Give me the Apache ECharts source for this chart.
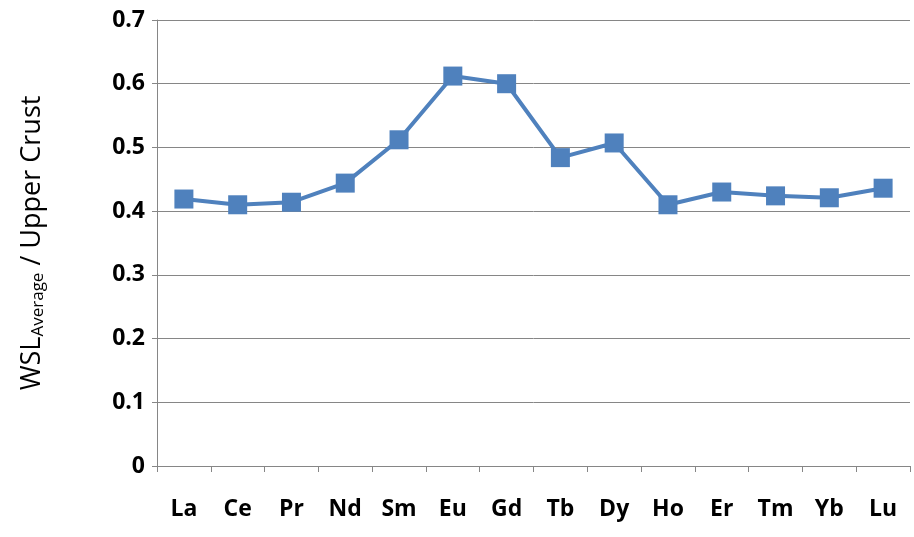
<!DOCTYPE html>
<html>
<head>
<meta charset="utf-8">
<script src="https://cdn.jsdelivr.net/npm/echarts@6/dist/echarts.min.js"></script>
<style>html,body{margin:0;padding:0;background:#fff}#chart{width:914px;height:537px}</style>
</head>
<body>
<div id="chart"></div>
<script>
const elements = ["La", "Ce", "Pr", "Nd", "Sm", "Eu", "Gd", "Tb", "Dy", "Ho", "Er", "Tm", "Yb", "Lu"];
const ratios = [0.419, 0.410, 0.414, 0.444, 0.512, 0.612, 0.600, 0.484, 0.507, 0.410, 0.430, 0.424, 0.421, 0.436];

const chart = echarts.init(document.getElementById("chart"));
chart.setOption({
  animation: false,
  grid: { left: 157, right: 4, top: 20, bottom: 71 },
  xAxis: {
    type: "category",
    data: elements,
    boundaryGap: true,
    axisLine: { lineStyle: { color: "#868686" } },
    axisTick: { show: true, length: 6, lineStyle: { color: "#868686" } },
    axisLabel: { margin: 32, color: "#000", fontFamily: "Open Sans", fontWeight: "bold", fontSize: 23 },
  },
  yAxis: {
    type: "value",
    min: 0,
    max: 0.7,
    interval: 0.1,
    axisLine: { show: true, lineStyle: { color: "#868686" } },
    axisTick: { show: true, length: 5, inside: false, lineStyle: { color: "#868686" } },
    splitLine: { lineStyle: { color: "#868686", width: 1 } },
    axisLabel: {
      margin: 12, color: "#000", fontFamily: "Open Sans", fontWeight: "bold", fontSize: 23,
      formatter: (v) => (v === 0 ? "0" : v.toFixed(1)),
    },
    name: "{a|WSL}{b|Average}{a| / Upper Crust}",
    nameLocation: "middle",
    nameGap: 110,
    nameTextStyle: {
      rich: {
        a: { fontFamily: "Open Sans", fontSize: 27, color: "#000" },
        b: { fontFamily: "Open Sans", fontSize: 17, color: "#000", padding: [12, 0, 0, 0] },
      },
    },
  },
  series: [
    {
      type: "line",
      data: ratios,
      symbol: "rect",
      symbolSize: 19,
      itemStyle: { color: "#4f81bd" },
      lineStyle: { color: "#4f81bd", width: 4 },
    },
  ],
});
</script>
</body>
</html>
